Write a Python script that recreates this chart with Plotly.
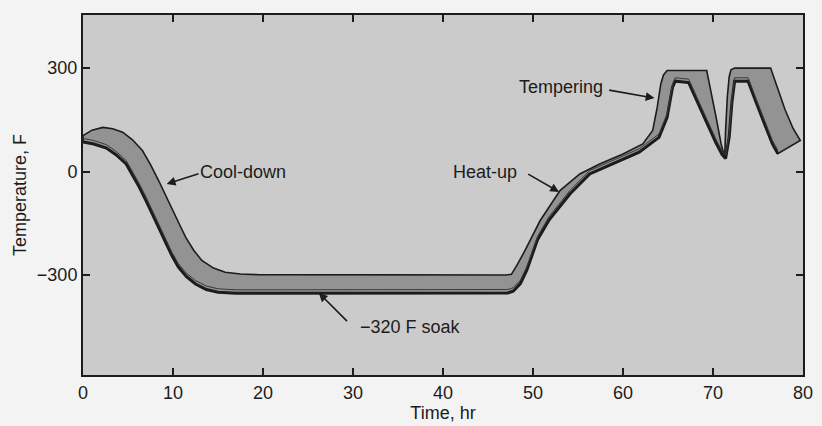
import plotly.graph_objects as go

# Upper envelope of the temperature band (time in hr, temperature in F)
upper_t = [0, 1.0, 2.2, 3.3, 4.4, 5.5, 6.6, 7.5, 8.4, 9.2, 9.9, 10.7, 11.4, 12.3, 13.2, 14.5, 15.8, 17.5, 19.4,
           30.0, 47.0, 47.6, 48.3, 49.1, 50.8, 53.0, 55.2, 57.4, 60.0, 62.2, 63.3, 63.8, 64.2, 64.5, 64.9,
           69.3, 69.8, 70.4, 70.9, 71.3, 71.4, 71.6, 71.8, 72.0, 72.4, 76.4, 77.2, 78.0, 78.9, 79.7]
upper_f = [104, 120, 128, 124, 114, 92, 61, 20, -26, -70, -113, -152, -190, -228, -258, -280, -292, -297, -299,
           -300, -300, -298, -268, -229, -142, -55, -7, 22, 51, 80, 119, 186, 254, 280, 293,
           293, 230, 150, 80, 42, 120, 220, 275, 295, 300, 300, 240, 180, 125, 90]

# Lower envelope of the temperature band
lower_t = [0, 1.2, 2.6, 3.7, 4.8, 5.5, 6.25, 7.0, 7.7, 8.5, 9.2, 9.9, 10.6, 11.5, 12.5, 13.7, 15.0, 17.0, 19.4,
           30.0, 47.2, 47.8, 48.6, 49.3, 50.5, 51.8, 54.1, 56.3, 58.9, 61.8, 64.0, 64.9, 65.5, 65.8,
           67.3, 68.3, 69.3, 70.3, 71.0, 71.4, 71.8, 72.1, 72.4, 73.9, 74.8, 75.8, 76.6, 77.2]
lower_f = [86, 80, 68, 48, 22, -10, -45, -84, -123, -167, -210, -245, -277, -305, -326, -342, -350, -353, -353,
           -352, -352, -347, -325, -287, -198, -140, -65, -7, 22, 56, 99, 157, 244, 262,
           258, 200, 140, 85, 50, 38, 100, 200, 262, 262, 200, 130, 80, 52]

x_ticks = [0, 10, 20, 30, 40, 50, 60, 70, 80]
y_ticks = [-300, 0, 300]

ink = "#1c1c1c"
font = dict(family="Liberation Sans, Arial, Helvetica, sans-serif", size=18, color=ink)

poly_t = upper_t + lower_t[::-1] + [upper_t[0]]
poly_f = upper_f + lower_f[::-1] + [upper_f[0]]

fig = go.Figure()
fig.add_trace(go.Scatter(x=poly_t, y=poly_f, mode="lines", fill="toself",
                         fillcolor="#939393", line=dict(color=ink, width=1.6),
                         hoverinfo="skip", showlegend=False))
fig.add_trace(go.Scatter(x=lower_t, y=lower_f, mode="lines",
                         line=dict(color=ink, width=3), hoverinfo="skip", showlegend=False))
fig.add_trace(go.Scatter(x=lower_t, y=[v + 10 for v in lower_f], mode="lines",
                         line=dict(color="#3a3a3a", width=1), hoverinfo="skip", showlegend=False))

def label(text, tx, ty, hx, hy, px, py):
    fig.add_annotation(x=tx, y=ty, xref="x", yref="y", text=text, showarrow=False,
                       font=font, xanchor="center", yanchor="middle")
    fig.add_annotation(x=hx, y=hy, ax=px, ay=py, xref="x", yref="y", axref="x", ayref="y",
                       text="", showarrow=True, arrowhead=2, arrowsize=1.1, arrowwidth=1.6,
                       arrowcolor=ink)

label("Cool-down", 17.8, 0, 9.3, -36, 13.0, -5)
label("Heat-up", 44.7, 0, 52.9, -59, 49.3, -5)
label("Tempering", 53.1, 244, 63.5, 213, 58.3, 237)
label("\u2212320 F soak", 36.4, -450, 26.2, -352, 29.5, -438)

fig.update_layout(
    width=822, height=426,
    margin=dict(l=83, r=9, t=15, b=51),
    paper_bgcolor="#f3f3f3",
    plot_bgcolor="#cbcbcb",
    font=font,
    showlegend=False,
)
fig.update_xaxes(range=[0, 80], tickvals=x_ticks, ticks="inside", ticklen=7, tickwidth=1.5,
                 tickcolor=ink, showline=True, linecolor=ink, linewidth=2, mirror="allticks",
                 showgrid=False, zeroline=False, tickfont=font,
                 title=dict(text="Time, hr", font=font, standoff=2))
fig.update_yaxes(range=[-590, 454], tickvals=y_ticks, ticks="inside", ticklen=7, tickwidth=1.5,
                 tickcolor=ink, showline=True, linecolor=ink, linewidth=2, mirror="allticks",
                 showgrid=False, zeroline=False, tickfont=font,
                 title=dict(text="Temperature, F", font=font, standoff=6))

fig.write_html("out.html", config={"displayModeBar": False},
               post_script="document.body.style.margin='0';document.body.style.overflow='hidden';")
